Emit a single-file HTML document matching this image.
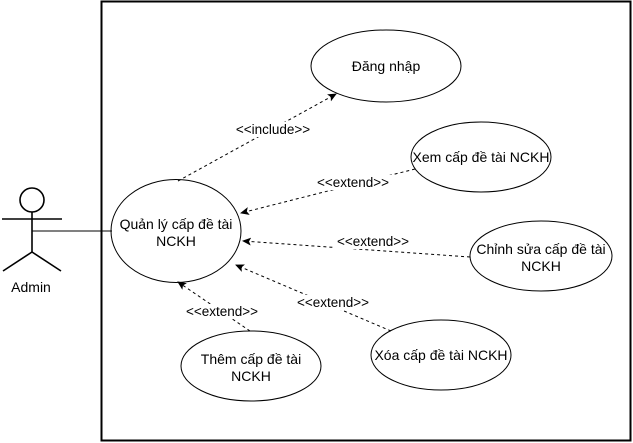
<!DOCTYPE html>
<html><head><meta charset="utf-8"><style>
html,body{margin:0;padding:0;background:#fff;width:633px;height:443px;overflow:hidden}
text{font-family:"Liberation Sans","Noto Sans CJK SC",sans-serif;font-size:14px;fill:#000}
text.l{font-size:13.5px}
</style></head><body>
<svg width="633" height="443" viewBox="0 0 633 443" xmlns="http://www.w3.org/2000/svg">
<defs><marker id="a" markerWidth="10" markerHeight="10" refX="8" refY="4" orient="auto" markerUnits="userSpaceOnUse"><path d="M0,0 L9,4 L0,8 L2,4 Z" fill="#000"/></marker></defs>
<rect x="101.5" y="1.5" width="529" height="439" fill="none" stroke="#000" stroke-width="2"/>
<g fill="none" stroke="#000" stroke-width="1">
<g stroke-width="1.6">
<circle cx="32" cy="200" r="12"/>
<line x1="32" y1="212" x2="32" y2="252"/>
<line x1="2" y1="219" x2="62" y2="219"/>
<line x1="32" y1="252" x2="3" y2="271"/>
<line x1="32" y1="252" x2="61" y2="271"/>
</g>
<line x1="32" y1="231" x2="112" y2="231"/>
<ellipse cx="176" cy="231" rx="65" ry="51.5"/>
<ellipse cx="386" cy="66" rx="75" ry="36"/>
<ellipse cx="481" cy="157" rx="70" ry="35"/>
<ellipse cx="541" cy="256" rx="71" ry="35"/>
<ellipse cx="441" cy="355" rx="70" ry="35"/>
<ellipse cx="251" cy="366" rx="70" ry="35"/>
<g stroke-dasharray="3,3">
<line x1="178" y1="181" x2="336" y2="94" marker-end="url(#a)"/>
<line x1="415" y1="169" x2="241" y2="213" marker-end="url(#a)"/>
<line x1="470" y1="257" x2="243" y2="241" marker-end="url(#a)"/>
<line x1="391" y1="331" x2="236" y2="265" marker-end="url(#a)"/>
<line x1="250" y1="331" x2="178" y2="282" marker-end="url(#a)"/>
</g>
</g>
<g text-anchor="middle">
<rect x="235" y="122" width="78" height="15" fill="#fff"/>
<text class="l" x="273" y="134">&lt;&lt;include&gt;&gt;</text>
<rect x="314" y="175" width="78" height="15" fill="#fff"/>
<text class="l" x="353" y="187">&lt;&lt;extend&gt;&gt;</text>
<rect x="334" y="234" width="78" height="15" fill="#fff"/>
<text class="l" x="373" y="246">&lt;&lt;extend&gt;&gt;</text>
<rect x="294" y="295" width="78" height="15" fill="#fff"/>
<text class="l" x="333" y="307">&lt;&lt;extend&gt;&gt;</text>
<rect x="183" y="304" width="78" height="15" fill="#fff"/>
<text class="l" x="222" y="316">&lt;&lt;extend&gt;&gt;</text>
<text x="176" y="229">Quản lý cấp đề tài</text>
<text x="176" y="246">NCKH</text>
<text x="386" y="71">Đăng nhập</text>
<text x="481" y="162">Xem cấp đề tài NCKH</text>
<text x="541" y="254">Chỉnh sửa cấp đề tài</text>
<text x="541" y="271">NCKH</text>
<text x="441" y="360">Xóa cấp đề tài NCKH</text>
<text x="251" y="364">Thêm cấp đề tài</text>
<text x="251" y="381">NCKH</text>
<text x="31" y="292">Admin</text>
</g>
</svg>
</body></html>
